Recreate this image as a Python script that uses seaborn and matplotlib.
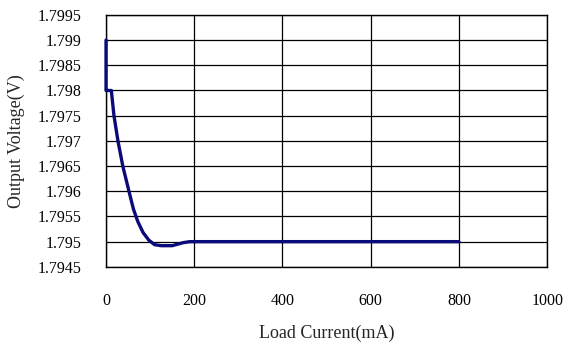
import pandas as pd
import seaborn as sns
import matplotlib
matplotlib.use('Agg')
import matplotlib.pyplot as plt

# Values
load_current = [0, 0, 2, 12, 18, 27, 38, 52, 62, 72, 84, 97, 110, 125, 150, 175, 190, 300, 500, 800]
output_voltage = [1.7990, 1.7980, 1.7980, 1.7980, 1.7975, 1.7970, 1.7965, 1.7960, 1.79565, 1.79540,
                  1.79518, 1.79503, 1.79494, 1.79492, 1.79492, 1.79498, 1.7950, 1.7950, 1.7950, 1.7950]

x_ticks = [0, 200, 400, 600, 800, 1000]
y_ticks = [1.7945, 1.795, 1.7955, 1.796, 1.7965, 1.797, 1.7975, 1.798, 1.7985, 1.799, 1.7995]
y_labels = ['1.7945', '1.795', '1.7955', '1.796', '1.7965', '1.797',
            '1.7975', '1.798', '1.7985', '1.799', '1.7995']

df = pd.DataFrame({'current': load_current, 'voltage': output_voltage})

sns.set_style('white')
plt.rcParams['font.family'] = ['Liberation Serif', 'DejaVu Serif']

fig = plt.figure(figsize=(5.67, 3.47), dpi=100)
ax = fig.add_axes([0.187, 0.231, 0.778, 0.726])

sns.lineplot(data=df, x='current', y='voltage', sort=False, color='#0a0a78',
             linewidth=2.4, ax=ax, estimator=None, zorder=4)
# the vertical start segment sits on the left spine, so don't clip it
for ln in ax.lines:
    ln.set_clip_on(False)

ax.set_xlim(0, 1000)
ax.set_ylim(1.7945, 1.7995)
ax.set_xticks(x_ticks)
ax.set_yticks(y_ticks)
ax.set_yticklabels(y_labels)
ax.tick_params(axis='both', length=0, labelsize=11.5, colors='black')
ax.tick_params(axis='x', pad=19)
ax.tick_params(axis='y', pad=18)
ax.grid(True, color='black', linewidth=0.9)
for s in ax.spines.values():
    s.set_color('black')
    s.set_linewidth(1.0)

ax.set_xlabel('Load Current(mA)', fontsize=13, labelpad=11)
ax.set_ylabel('Output Voltage(V)', fontsize=13, labelpad=9)

fig.savefig('out.png', dpi=100)
